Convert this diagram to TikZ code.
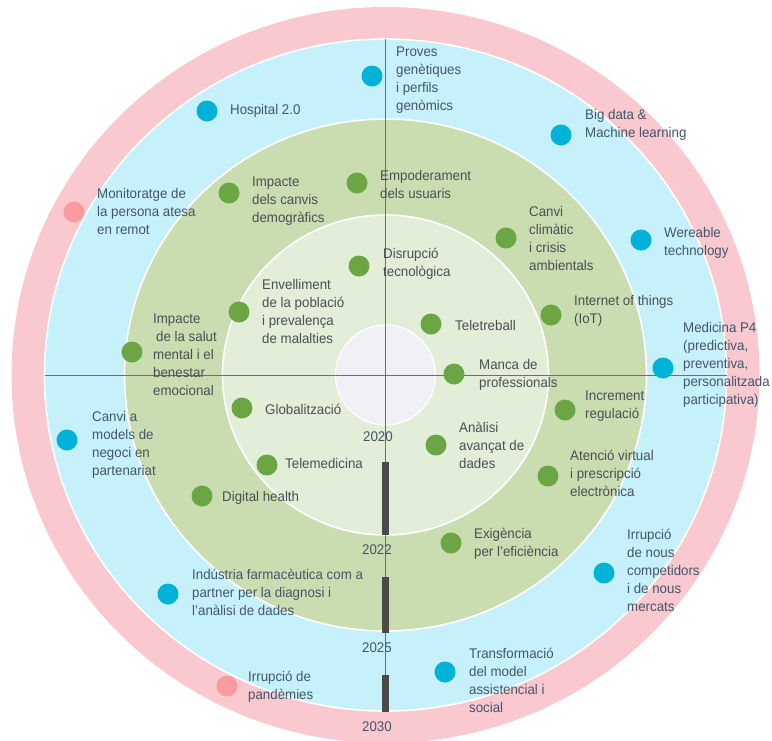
\documentclass[tikz,border=0pt]{standalone}
\usepackage{fontspec}
\setmainfont{Liberation Sans}[FakeStretch=0.95]
\definecolor{ringpink}{HTML}{FAC8CF}
\definecolor{ringblue}{HTML}{C7F1FA}
\definecolor{ringgreen}{HTML}{C9DDB0}
\definecolor{ringlight}{HTML}{E3EED9}
\definecolor{ringcore}{HTML}{F1F0F4}
\definecolor{dotblue}{HTML}{00B2D8}
\definecolor{dotgreen}{HTML}{6CA544}
\definecolor{dotpink}{HTML}{F99A9E}
\definecolor{txtblue}{HTML}{42566A}
\definecolor{txtgray}{HTML}{4B4F54}
\definecolor{axisgray}{HTML}{6E6E6E}
\definecolor{bargray}{HTML}{4A4A4A}
\tikzset{
  ring/.style={draw=white, line width=1.6pt},
  bdot/.style={circle, fill=dotblue, minimum size=21pt, inner sep=0pt},
  gdot/.style={circle, fill=dotgreen, minimum size=21pt, inner sep=0pt},
  pdot/.style={circle, fill=dotpink, minimum size=21pt, inner sep=0pt},
  lbl/.style={anchor=west, align=left, inner sep=0pt, font=\fontsize{14}{18}\selectfont},
  blbl/.style={lbl, text=txtblue},
  glbl/.style={lbl, text=txtgray},
  year/.style={inner sep=0pt, text=txtblue, font=\fontsize{14}{18}\selectfont},
  axis/.style={draw=axisgray, line width=0.9pt},
  yearbar/.style={fill=bargray, draw=none}
}
\begin{document}
\begin{tikzpicture}[x=1pt, y=-1pt]
\useasboundingbox (0,0) rectangle (772,740);
\fill[white] (0,0) rectangle (772,740);
\coordinate (c) at (385.5,375);
% rings
\fill[ringpink] (c) ellipse [x radius=374, y radius=368];
\filldraw[ring, fill=ringblue] (c) ellipse [x radius=341, y radius=336];
\filldraw[ring, fill=ringgreen] (c) ellipse [x radius=261, y radius=256];
\filldraw[ring, fill=ringlight] (c) ellipse [x radius=163, y radius=160];
\filldraw[draw=white, line width=1.2pt, fill=ringcore] (c) circle [radius=50];
% axes
\coordinate (axT) at (385.5,39);
\coordinate (axB) at (385.5,711);
\coordinate (axL) at (44.5,375);
\coordinate (axR) at (726.5,375);
\draw[axis] (axT) -- (axB);
\draw[axis] (axL) -- (axR);
% year bars
\fill[yearbar] (382,462) rectangle (389,535);
\fill[yearbar] (381.5,577) rectangle (388.5,633);
\fill[yearbar] (382,675) rectangle (389,712);
% years
\node[year] (y2020) at (378,437) {2020};
\node[year] (y2022) at (377,550) {2022};
\node[year] (y2025) at (377,648) {2025};
\node[year] (y2030) at (377,727) {2030};
% outer (blue ring) items
\node[bdot] (d1) at (372,76) {};
\node[blbl] (l1) at (396,80) {Proves\\genètiques\\i perfils\\genòmics};
\node[bdot] (d2) at (207,111) {};
\node[blbl] (l2) at (230,111) {Hospital 2.0};
\node[pdot] (d3) at (74,212) {};
\node[blbl] (l3) at (97,211) {Monitoratge de\\la persona atesa\\en remot};
\node[bdot] (d4) at (561,135) {};
\node[blbl] (l4) at (585,124.5) {Big data \&\\Machine learning};
\node[bdot] (d5) at (641,240) {};
\node[blbl] (l5) at (664,242.5) {Wereable\\technology};
\node[bdot] (d6) at (663,368) {};
\node[blbl] (l6) at (683,365) {Medicina P4\\(predictiva,\\preventiva,\\personalitzada\\participativa)};
\node[bdot] (d7) at (67,440) {};
\node[blbl] (l7) at (92,444.5) {Canvi a\\models de\\negoci en\\partenariat};
\node[bdot] (d8) at (168,594) {};
\node[blbl] (l8) at (192,592) {Indústria farmacèutica com a\\partner per la diagnosi i\\l'anàlisi de dades};
\node[pdot] (d9) at (227,686) {};
\node[blbl] (l9) at (248,687) {Irrupció de\\pandèmies};
\node[bdot] (d10) at (445,672) {};
\node[blbl] (l10) at (469,680) {Transformació\\del model\\assistencial i\\social};
\node[bdot] (d11) at (604,573) {};
\node[blbl] (l11) at (627,570.5) {Irrupció\\de nous\\competidors\\i de nous\\mercats};
% middle (green ring) items
\node[gdot] (d12) at (229,193) {};
\node[glbl] (l12) at (252,201.5) {Impacte\\dels canvis\\demogràfics};
\node[gdot] (d13) at (357,183) {};
\node[glbl] (l13) at (380,184) {Empoderament\\dels usuaris};
\node[gdot] (d14) at (506,238) {};
\node[glbl] (l14) at (529,238.5) {Canvi\\climàtic\\i crisis\\ambientals};
\node[gdot] (d15) at (551,315) {};
\node[glbl] (l15) at (574,311) {Internet of things\\(IoT)};
\node[gdot] (d16) at (132,352) {};
\node[glbl] (l16) at (153,355) {Impacte\\\hspace*{3pt}de la salut\\mental i el\\benestar\\emocional};
\node[gdot] (d17) at (565,410) {};
\node[glbl] (l17) at (585,406.5) {Increment\\regulació};
\node[gdot] (d18) at (548,476) {};
\node[glbl] (l18) at (570,473) {Atenció virtual\\i prescripció\\electrònica};
\node[gdot] (d19) at (202,496) {};
\node[glbl] (l19) at (222,498) {Digital health};
\node[gdot] (d20) at (451,543) {};
\node[glbl] (l20) at (474,543.5) {Exigència\\per l'eficiència};
% inner ring items
\node[gdot] (d21) at (359,266) {};
\node[glbl] (l21) at (383,263.5) {Disrupció\\tecnològica};
\node[gdot] (d22) at (239,312) {};
\node[glbl] (l22) at (262,311) {Envelliment\\de la població\\i prevalença\\de malalties};
\node[gdot] (d23) at (431,324) {};
\node[glbl] (l23) at (455,325) {Teletreball};
\node[gdot] (d24) at (454,374) {};
\node[glbl] (l24) at (479,374.5) {Manca de\\professionals};
\node[gdot] (d25) at (242,408) {};
\node[glbl] (l25) at (265,409) {Globalització};
\node[gdot] (d26) at (436,445) {};
\node[glbl] (l26) at (459,445) {Anàlisi\\avançat de\\dades};
\node[gdot] (d27) at (267,465) {};
\node[glbl] (l27) at (285,463) {Telemedicina};
\end{tikzpicture}
\end{document}
